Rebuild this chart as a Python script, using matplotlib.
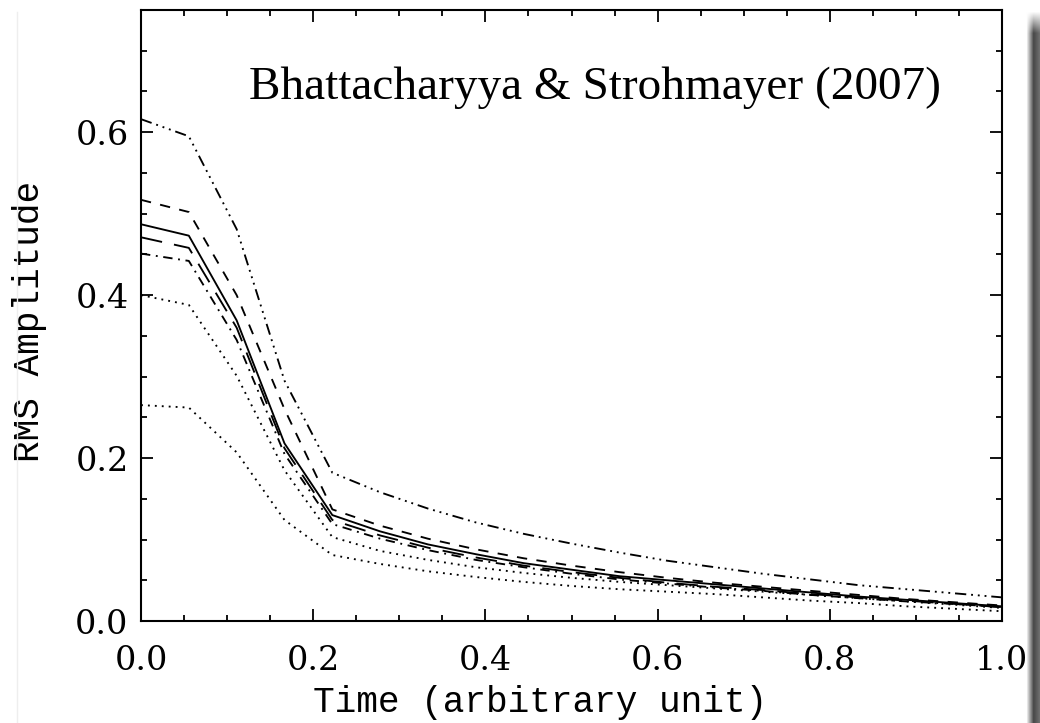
import numpy as np
import matplotlib
matplotlib.use("Agg")
import matplotlib.pyplot as plt
from matplotlib.ticker import MultipleLocator

# --- Data (time grid in steps of 1/18) ---
t = np.arange(19) / 18.0

rms_ddd = [0.616, 0.595, 0.481, 0.295, 0.182, 0.158, 0.138, 0.121, 0.107, 0.095,
           0.084, 0.074, 0.066, 0.058, 0.051, 0.044, 0.039, 0.034, 0.029]
rms_dash = [0.517, 0.502, 0.400, 0.260, 0.137, 0.117, 0.101, 0.088, 0.077, 0.068,
            0.060, 0.053, 0.047, 0.042, 0.037, 0.032, 0.027, 0.023, 0.019]
rms_solid = [0.487, 0.473, 0.369, 0.218, 0.130, 0.110, 0.094, 0.082, 0.071, 0.063,
             0.055, 0.050, 0.045, 0.040, 0.035, 0.030, 0.026, 0.022, 0.018]
rms_longdash = [0.471, 0.458, 0.360, 0.212, 0.124, 0.105, 0.090, 0.078, 0.068, 0.060,
                0.053, 0.047, 0.042, 0.038, 0.033, 0.029, 0.025, 0.021, 0.017]
rms_dashdot = [0.451, 0.442, 0.345, 0.205, 0.119, 0.101, 0.087, 0.075, 0.066, 0.058,
               0.051, 0.046, 0.041, 0.037, 0.032, 0.028, 0.024, 0.021, 0.017]
rms_dot1 = [0.400, 0.388, 0.301, 0.185, 0.103, 0.086, 0.075, 0.066, 0.059, 0.053,
            0.048, 0.044, 0.040, 0.036, 0.032, 0.028, 0.024, 0.020, 0.016]
rms_dot2 = [0.265, 0.262, 0.207, 0.124, 0.081, 0.070, 0.061, 0.054, 0.048, 0.043,
            0.039, 0.036, 0.033, 0.029, 0.025, 0.022, 0.018, 0.015, 0.012]

# --- Figure ---
fig = plt.figure(figsize=(10.4, 7.23), dpi=100)
ax = fig.add_axes([141/1040, 1 - 621/723, 861/1040, 611/723])

lw = 1.35
ax.plot(t, rms_ddd, color="black", lw=lw, dashes=(6, 2.6, 1, 2.6, 1, 2.6, 1, 2.6))
ax.plot(t, rms_dash, color="black", lw=lw, dashes=(5.5, 5))
ax.plot(t, rms_solid, color="black", lw=lw)
ax.plot(t, rms_longdash, color="black", lw=lw, dashes=(11.5, 6.5))
ax.plot(t, rms_dashdot, color="black", lw=lw, dashes=(5, 3, 1, 3))
ax.plot(t, rms_dot1, color="black", lw=lw, dashes=(1, 2.7))
ax.plot(t, rms_dot2, color="black", lw=lw, dashes=(1, 2.7))

ax.set_xlim(0, 1)
ax.set_ylim(0, 0.75)
ax.xaxis.set_major_locator(MultipleLocator(0.2))
ax.xaxis.set_minor_locator(MultipleLocator(0.05))
ax.yaxis.set_major_locator(MultipleLocator(0.2))
ax.yaxis.set_minor_locator(MultipleLocator(0.05))
ax.xaxis.set_major_formatter(lambda v, p: f"{v:.1f}")
ax.yaxis.set_major_formatter(lambda v, p: f"{v:.1f}")

ax.tick_params(which="both", direction="in", top=True, right=True, width=1.3)
ax.tick_params(which="major", length=8.5)
ax.tick_params(which="minor", length=4.5)
ax.tick_params(axis="x", which="major", pad=17, labelsize=24)
ax.tick_params(axis="y", which="major", pad=9, labelsize=24)
for lab in ax.get_xticklabels() + ax.get_yticklabels():
    lab.set_family("DejaVu Serif")
for s in ax.spines.values():
    s.set_linewidth(1.5)

ax.set_xlabel("Time (arbitrary unit)", family="Liberation Mono", fontsize=26, va="center")
ax.set_ylabel("RMS Amplitude", family="Liberation Mono", fontsize=26, va="center")
ax.xaxis.set_label_coords(0.463, -0.134)
ax.yaxis.set_label_coords(-0.129, 0.49)

ax.text(0.527, 0.872, "Bhattacharyya & Strohmayer (2007)", transform=ax.transAxes,
        ha="center", va="center", family="Liberation Serif", fontsize=34)

# --- page edge and drop shadow on the right ---
fig.add_artist(plt.Line2D([17/1040, 17/1040], [0, 1 - 12/723], transform=fig.transFigure,
                          color="#eeeeee", lw=1))
sh = fig.add_axes([1026/1040, 0, 14/1040, 1 - 10/723])
gx = np.linspace(0, 1, 14)
prof = 1 - 0.72 * np.clip(gx / 0.55, 0, 1) + 0.15 * np.clip((gx - 0.55) / 0.45, 0, 1)
gy = np.clip(np.linspace(0, 1, 200) / 0.03, 0, 1)[:, None]
img = 1 - (1 - prof[None, :]) * gy
sh.imshow(img, cmap="gray", vmin=0, vmax=1, aspect="auto", interpolation="bilinear")
sh.axis("off")

fig.savefig("out.png", dpi=100)
